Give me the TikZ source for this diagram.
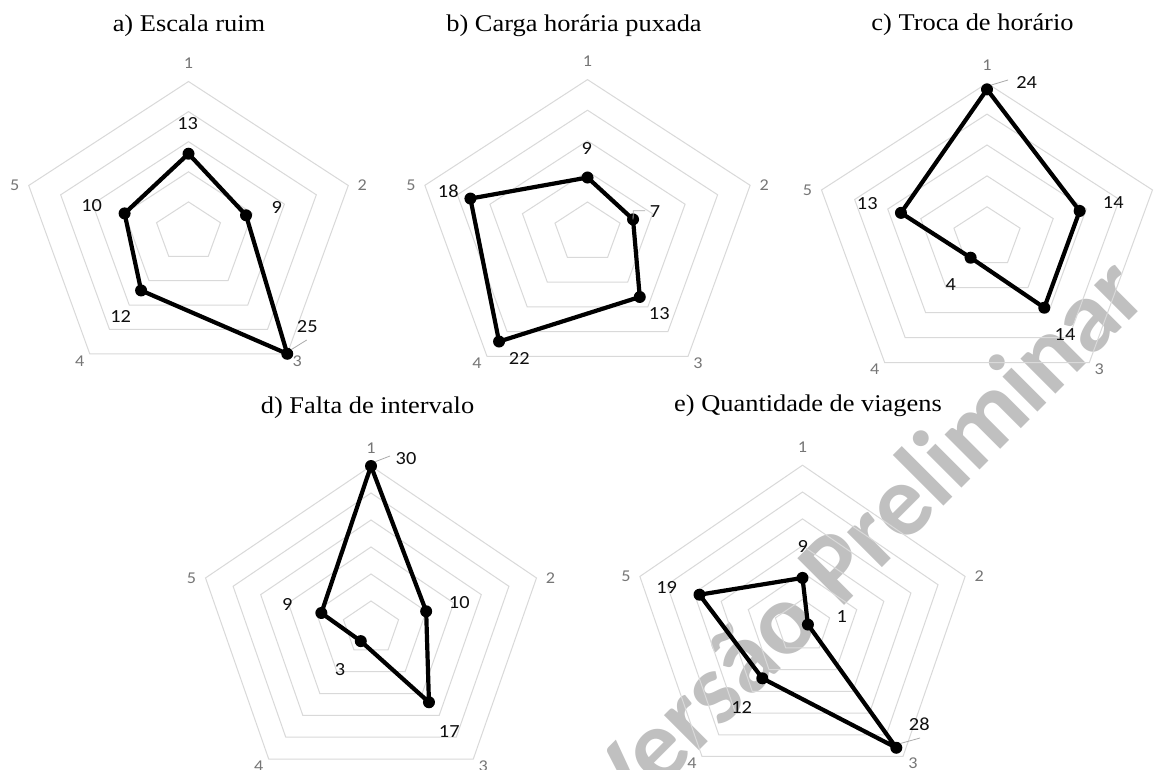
\documentclass[tikz,border=0pt]{standalone}
\usepackage{fontspec}
\setmainfont{Liberation Serif}
\newfontfamily\calib{Carlito}
\definecolor{gridc}{RGB}{217,217,217}
\definecolor{axc}{RGB}{118,118,118}
\definecolor{valc}{RGB}{15,15,15}
\definecolor{wmc}{RGB}{192,192,192}
\definecolor{leadc}{RGB}{170,170,170}
\tikzset{
  ringline/.style={draw=gridc, line width=1pt},
  series/.style={draw=black, line width=4.2pt, line join=round},
  dot/.style={circle, fill=black, inner sep=0pt, minimum size=12pt},
  axlab/.style={font=\calib\fontsize{16.5}{18}\selectfont, text=axc, inner sep=0pt, xscale=1.1},
  vallab/.style={font=\calib\fontsize{18.5}{20}\selectfont, text=valc, inner sep=0pt, xscale=1.1},
  ttl/.style={font=\fontsize{24}{28}\selectfont, inner sep=0pt, anchor=base, xscale=1.1},
  wm/.style={font=\calib\bfseries\fontsize{102}{110}\selectfont, text=wmc, inner sep=0pt, anchor=base, rotate=45},
  leader/.style={draw=leadc, line width=0.8pt}
}
\newcommand{\radar}[8]{%
  \foreach \ring in {1,...,#6}{%
    \pgfmathsetmacro{\fr}{\ring/#6}%
    \draw[ringline] ({#2},{#3-\fr*#5})
      -- ({#2+\fr*#4*cos(18)},{#3-\fr*#5*sin(18)})
      -- ({#2+\fr*#4*cos(-54)},{#3-\fr*#5*sin(-54)})
      -- ({#2+\fr*#4*cos(-126)},{#3-\fr*#5*sin(-126)})
      -- ({#2+\fr*#4*cos(162)},{#3-\fr*#5*sin(162)}) -- cycle;
  }
  \foreach \myang/\dx/\dy [count=\n] in {90/0/-18,18/14/0,-54/10/7,-126/-10/7,162/-14/0}{%
    \node[axlab] (#1-ax\n) at ({#2+#4*cos(\myang)+\dx},{#3-#5*sin(\myang)+\dy}) {\n};
  }
  \foreach \v [count=\n] in {#8}{%
    \pgfmathsetmacro{\myang}{162-72*\n}%
    \coordinate (#1-v\n) at ({#2+\v/#7*#4*cos(\myang)},{#3-\v/#7*#5*sin(\myang)});
  }
  \draw[series] (#1-v1) -- (#1-v2) -- (#1-v3) -- (#1-v4) -- (#1-v5) -- cycle;
  \foreach \n in {1,...,5}{\node[dot] (#1-d\n) at (#1-v\n) {};}
}
\begin{document}
\begin{tikzpicture}[x=1pt,y=-1pt]
\useasboundingbox (0,0) rectangle (1162,769);
\fill[white] (0,0) rectangle (1162,769);
% watermark
\node[wm] (wmark) at (886,564) {Versão Preliminar};
% titles
\node[ttl] (ta) at (189,31.7) {a) Escala ruim};
\node[ttl] (tb) at (574,31.7) {b) Carga horária puxada};
\node[ttl] (tc) at (972.5,30) {c) Troca de horário};
\node[ttl] (td) at (367.5,413) {d) Falta de intervalo};
\node[ttl] (te) at (808,411.7) {e) Quantidade de viagens};
% charts
\radar{a}{188.5}{232}{168}{150.5}{5}{25}{13,9,25,12,10}
\radar{b}{587.5}{232.6}{171}{153}{5}{25}{9,7,13,22,18}
\radar{c}{987}{237.7}{174}{154.5}{5}{25}{24,14,14,4,13}
\radar{d}{371}{628}{174}{162}{6}{30}{30,10,17,3,9}
\radar{e}{802.5}{626.2}{171}{161}{6}{30}{9,1,28,12,19}
% leader lines
\coordinate (a-lead) at (306.7,340);
\draw[leader] (a-d3.north east) -- (a-lead);
\coordinate (b-lead1) at (633.3,210.7);
\coordinate (b-lead2) at (645,210.7);
\draw[leader] (b-v2) -- (b-lead1) -- (b-lead2);
\coordinate (c-lead) at (1008,80);
\draw[leader] (c-d1.north east) -- (c-lead);
\coordinate (d-lead) at (390,456);
\draw[leader] (d-d1.north east) -- (d-lead);
\coordinate (e-lead) at (920,738);
\draw[leader] (e-d3.north east) -- (e-lead);
% value labels
\node[vallab] (a-l1) at (187.7,124) {13};
\node[vallab] (a-l2) at (276.7,207.3) {9};
\node[vallab] (a-l3) at (307.3,326.7) {25};
\node[vallab] (a-l4) at (120.7,316.7) {12};
\node[vallab] (a-l5) at (91.7,206) {10};
\node[vallab] (b-l1) at (586.7,148.3) {9};
\node[vallab] (b-l2) at (655,211.7) {7};
\node[vallab] (b-l3) at (659.3,313.3) {13};
\node[vallab] (b-l4) at (519.3,358.3) {22};
\node[vallab] (b-l5) at (448.3,191.7) {18};
\node[vallab] (c-l1) at (1026.7,82.7) {24};
\node[vallab] (c-l2) at (1113.3,202.7) {14};
\node[vallab] (c-l3) at (1065,335) {14};
\node[vallab] (c-l4) at (950.7,285) {4};
\node[vallab] (c-l5) at (867.3,203.3) {13};
\node[vallab] (d-l1) at (406,458.3) {30};
\node[vallab] (d-l2) at (459.3,602.7) {10};
\node[vallab] (d-l3) at (449.3,731.7) {17};
\node[vallab] (d-l4) at (340,669.3) {3};
\node[vallab] (d-l5) at (287.3,604) {9};
\node[vallab] (e-l1) at (802.7,546.7) {9};
\node[vallab] (e-l2) at (841.7,616.7) {1};
\node[vallab] (e-l3) at (919.3,724.3) {28};
\node[vallab] (e-l4) at (741.7,707.3) {12};
\node[vallab] (e-l5) at (666.7,587.3) {19};
\end{tikzpicture}
\end{document}
